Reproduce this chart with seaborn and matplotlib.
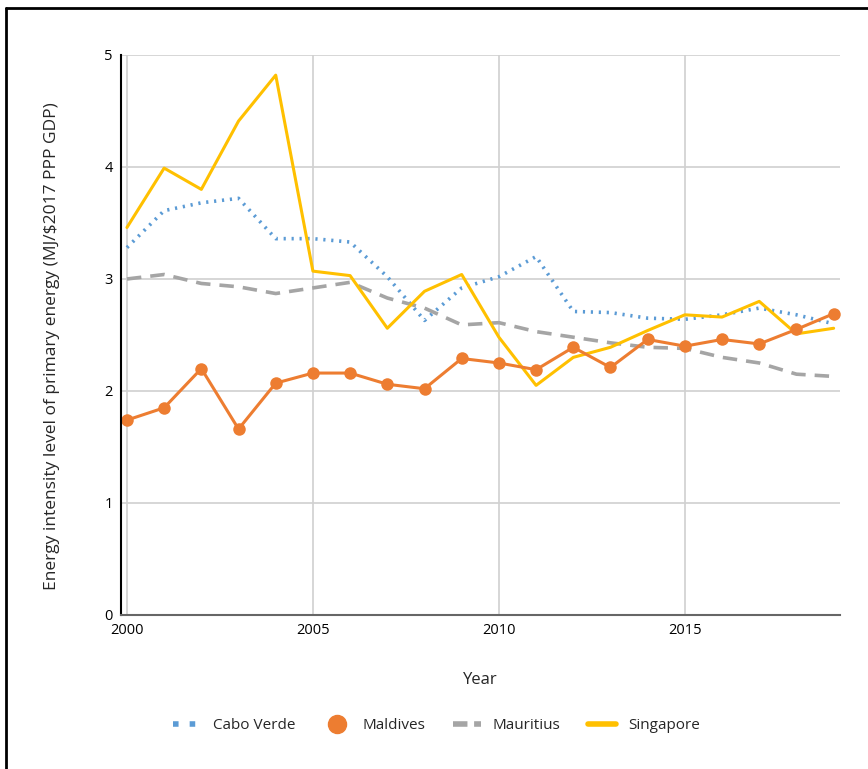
import numpy as np
import pandas as pd
import seaborn as sns
from matplotlib import pyplot as plt
from matplotlib.lines import Line2D

years = list(range(2000, 2020))
cabo_verde = [3.28, 3.61, 3.68, 3.72, 3.36, 3.36, 3.33, 3.02, 2.63, 2.92,
              3.02, 3.20, 2.71, 2.70, 2.65, 2.64, 2.68, 2.74, 2.68, 2.60]
maldives = [1.74, 1.85, 2.20, 1.66, 2.07, 2.16, 2.16, 2.06, 2.02, 2.29,
            2.25, 2.19, 2.39, 2.21, 2.46, 2.40, 2.46, 2.42, 2.55, 2.69]
mauritius = [3.00, 3.04, 2.96, 2.93, 2.87, 2.92, 2.97, 2.83, 2.74, 2.59,
             2.61, 2.53, 2.48, 2.43, 2.39, 2.38, 2.30, 2.25, 2.15, 2.13]
singapore = [3.46, 3.99, 3.80, 4.41, 4.82, 3.07, 3.03, 2.56, 2.89, 3.04,
             2.48, 2.05, 2.30, 2.39, 2.54, 2.68, 2.66, 2.80, 2.51, 2.56]

sns.set_theme(style="white")
plt.rcParams["font.family"] = ["Open Sans", "DejaVu Sans"]

df = pd.DataFrame({"Year": years, "Cabo Verde": cabo_verde, "Maldives": maldives,
                   "Mauritius": mauritius, "Singapore": singapore})

fig = plt.figure(figsize=(8.68, 7.69), dpi=100)
ax = fig.add_axes([0.1394, 0.2003, 0.8283, 0.7282])

ax.grid(True, color="#d0d0d0", linewidth=1.2)
ax.set_axisbelow(True)

sns.lineplot(data=df, x="Year", y="Cabo Verde", ax=ax, color="#5b9bd5",
             linewidth=2.6, linestyle=(0, (0.6, 1.6)), dash_capstyle="butt")
sns.lineplot(data=df, x="Year", y="Mauritius", ax=ax, color="#a5a5a5",
             linewidth=2.6, linestyle=(0, (4, 2.5)))
sns.lineplot(data=df, x="Year", y="Singapore", ax=ax, color="#ffc000",
             linewidth=2.2)
sns.lineplot(data=df, x="Year", y="Maldives", ax=ax, color="#ed7d31",
             linewidth=2.2, marker="o", markersize=9, markeredgewidth=0)

ax.set_xlim(1999.84, 2019.17)
ax.set_ylim(0, 5)
ax.set_xticks([2000, 2005, 2010, 2015])
ax.set_yticks([0, 1, 2, 3, 4, 5])
ax.tick_params(axis="both", labelsize=10.5, colors="black", length=0, pad=6)

for side in ["top", "right"]:
    ax.spines[side].set_visible(False)
ax.spines["left"].set_color("black")
ax.spines["left"].set_linewidth(1.5)
ax.spines["bottom"].set_color("#666666")
ax.spines["bottom"].set_linewidth(1.5)

ax.set_xlabel("Year", fontsize=12, labelpad=24)
ax.set_ylabel("Energy intensity level of primary energy (MJ/$2017 PPP GDP)",
              fontsize=12.5)
ax.yaxis.set_label_coords(-0.085, 0.48)

handles = [
    Line2D([], [], color="#5b9bd5", linewidth=4, linestyle=(0, (1, 2))),
    Line2D([], [], color="#ed7d31", linestyle="none", marker="o", markersize=13),
    Line2D([], [], color="#a5a5a5", linewidth=4, linestyle=(0, (2.6, 1.2))),
    Line2D([], [], color="#ffc000", linewidth=4),
]
fig.legend(handles, ["Cabo Verde", "Maldives", "Mauritius", "Singapore"],
           loc="center", bbox_to_anchor=(0.503, 0.056), ncol=4, frameon=False,
           fontsize=11, handlelength=1.8, columnspacing=1.8, handletextpad=0.8)

fig.add_artist(Line2D([0.007, 0.007], [0, 0.99], transform=fig.transFigure,
                      color="black", linewidth=2))
fig.add_artist(Line2D([0.007, 1.0], [0.99, 0.99], transform=fig.transFigure,
                      color="black", linewidth=2))

fig.savefig("out.png", dpi=100)
